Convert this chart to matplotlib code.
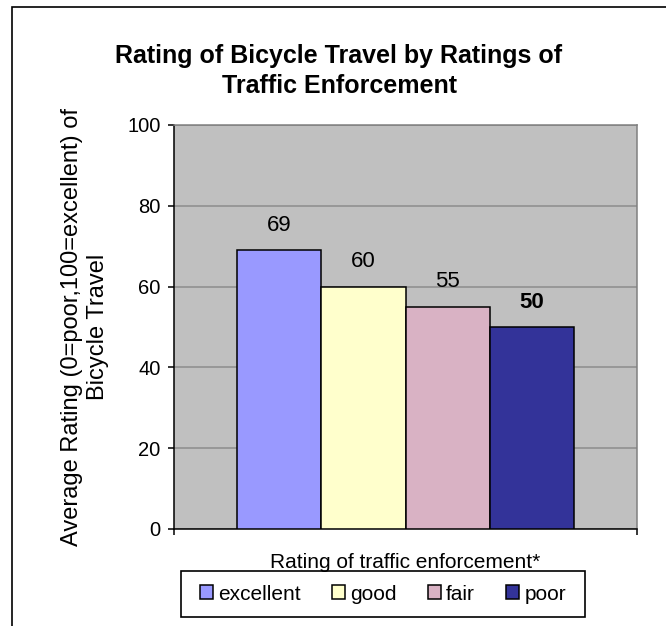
import matplotlib
matplotlib.use("Agg")
import matplotlib.pyplot as plt
from matplotlib.patches import Rectangle, Patch

plt.rcParams['font.family'] = ['Liberation Sans', 'DejaVu Sans']

# ---- data ----
categories = ["excellent", "good", "fair", "poor"]
values = [69, 60, 55, 50]
colors = ["#9999FF", "#FFFFCC", "#D9B2C4", "#333399"]
label_bold = [False, False, False, True]
yticks = [0, 20, 40, 60, 80, 100]
title = "Rating of Bicycle Travel by Ratings of\nTraffic Enforcement"
ylabel = "Average Rating (0=poor,100=excellent) of\nBicycle Travel"
xlabel = "Rating of traffic enforcement*"

W, H = 666, 626
fig = plt.figure(figsize=(W / 100, H / 100), dpi=100)

# outer chart frame
fig.patches.append(Rectangle((12 / W, -0.1), 1.2, 1 - 7 / H + 0.1,
                             transform=fig.transFigure, fill=False,
                             edgecolor="black", linewidth=1.2, zorder=0))

L, R, T, B = 174, 637, 125, 529
ax = fig.add_axes([L / W, 1 - B / H, (R - L) / W, (B - T) / H])
ax.set_facecolor("#C0C0C0")

n = len(values)
positions = [i - (n - 1) / 2 for i in range(n)]
bars = ax.bar(positions, values, width=1.0, color=colors, edgecolor="black",
              linewidth=1.1, zorder=3)

ax.set_xlim(-2.75, 2.75)
ax.set_ylim(0, 100)
ax.set_yticks(yticks)
ax.set_yticklabels([str(t) for t in yticks], fontsize=14.5)
ax.set_xticks([-2.75, 2.75])
ax.set_xticklabels(["", ""])
ax.tick_params(axis='both', direction='out', length=4.3, width=1.1, color='black', pad=5.5)
ax.yaxis.grid(True, color="#8C8C8C", linewidth=1.1, zorder=1)
ax.set_axisbelow(True)

for s in ["top", "right"]:
    ax.spines[s].set_color("#808080")
    ax.spines[s].set_linewidth(1.1)
for s in ["left", "bottom"]:
    ax.spines[s].set_color("black")
    ax.spines[s].set_linewidth(1.1)

for b, v, bold in zip(bars, values, label_bold):
    ax.annotate(str(v), (b.get_x() + b.get_width() / 2, v),
                xytext=(0, 18), textcoords="offset points",
                ha="center", va="center", fontsize=16,
                fontweight="bold" if bold else "normal", zorder=4)

ax.set_xlabel(xlabel, fontsize=15, va="center")
ax.xaxis.set_label_coords(0.5, -(562 - B) / (B - T))

ax.set_ylabel(ylabel, fontsize=17, va="center", multialignment="center",
              linespacing=1.22)
ax.yaxis.set_label_coords(-(L - 85) / (R - L), 0.5)

fig.text(339 / W, 1 - 44 / H, title, ha="center", va="top", fontsize=18,
         fontweight="bold", multialignment="center", linespacing=1.3)

# legend
handles = [Patch(facecolor=c, edgecolor="black", linewidth=1.1) for c in colors]
leg = fig.legend(handles, categories, loc="center", ncol=4,
                 bbox_to_anchor=(383 / W, 1 - 594 / H), frameon=False,
                 fontsize=15, handlelength=0.62, handleheight=0.62,
                 handletextpad=0.25, columnspacing=1.5, borderpad=0.3)
fig.patches.append(Rectangle((181 / W, 1 - 617 / H), (585 - 181) / W, 46 / H,
                             transform=fig.transFigure, fill=False,
                             edgecolor="black", linewidth=1.2, zorder=5))

fig.savefig("out.png", dpi=100)
